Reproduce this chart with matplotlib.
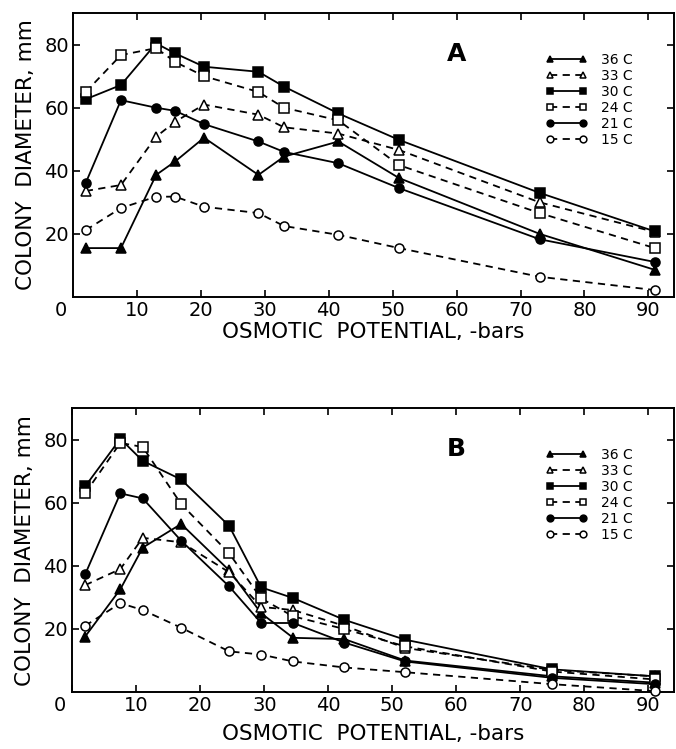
import matplotlib
matplotlib.use("Agg")
import matplotlib.pyplot as plt
from matplotlib import transforms

# ---------------- data ----------------
labels = ["36 C", "33 C", "30 C", "24 C", "21 C", "15 C"]

xA = [2, 7.5, 13, 16, 20.5, 29, 33, 41.5, 51, 73, 91]
yA_36 = [15.5, 15.5, 38.7, 43, 50.5, 38.7, 44.5, 49.3, 37.7, 20, 8.6]
yA_33 = [33.6, 35.5, 50.8, 55.6, 61, 57.8, 53.8, 51.8, 46.6, 30, 20.6]
yA_30 = [62.7, 67.2, 80.4, 77.2, 73, 71.4, 66.7, 58.2, 49.8, 33, 20.8]
yA_24 = [65, 76.7, 78.9, 74.5, 70, 65, 60, 56, 41.8, 26.6, 15.5]
yA_21 = [36.2, 62.4, 60, 59, 54.8, 49.3, 46, 42.4, 34.5, 18.3, 11.1]
yA_15 = [21.2, 28.2, 31.8, 31.8, 28.6, 26.6, 22.5, 19.7, 15.5, 6.4, 2.2]

xB = [2, 7.5, 11, 17, 24.5, 29.5, 34.5, 42.5, 52, 75, 91]
yB_36 = [17.6, 32.6, 45.8, 53.3, 38.6, 25, 17.2, 16.8, 10, 5, 3]
yB_33 = [33.9, 39, 48.9, 47.5, 38, 27, 26, 21, 14, 7, 5]
yB_30 = [65.2, 80.3, 73.3, 67.4, 52.7, 33.2, 29.8, 22.9, 16.6, 7.2, 5]
yB_24 = [63, 79, 77.7, 59.6, 44, 29.7, 24, 20, 14.5, 6.5, 4]
yB_21 = [37.3, 63, 61.4, 48, 33.5, 21.9, 21.9, 15.7, 9.7, 4.5, 2.5]
yB_15 = [21, 28.2, 26, 20.4, 12.9, 11.9, 9.7, 7.8, 6.3, 2.5, 0.3]

xticks = [0, 10, 20, 30, 40, 50, 60, 70, 80, 90]
yticks = [20, 40, 60, 80]

# ---------------- style ----------------
styles = [
    dict(marker="^", ls="-", mfc="black"),
    dict(marker="^", ls=(0, (4, 3)), mfc="white"),
    dict(marker="s", ls="-", mfc="black"),
    dict(marker="s", ls=(0, (4, 3)), mfc="white"),
    dict(marker="o", ls="-", mfc="black"),
    dict(marker="o", ls=(0, (4, 3)), mfc="white"),
]

plt.rcParams["font.family"] = ["DejaVu Sans"]

fig = plt.figure(figsize=(6.76, 7.49), dpi=100)
axA = fig.add_axes([0.108, 0.6035, 0.889, 0.379])
axB = fig.add_axes([0.107, 0.076, 0.890, 0.379])


def draw(ax, x, ys, letter, xlabelpad):
    for y, st, lab in zip(ys, styles, labels):
        ax.plot(x, y, color="black", lw=1.3, ls=st["ls"], marker=st["marker"],
                mfc=st["mfc"], mec="black", mew=1.1, ms=6.5, label=lab,
                clip_on=False, zorder=3)
    ax.set_xlim(0, 94)
    ax.set_ylim(0, 90)
    ax.set_xticks(xticks)
    ax.set_yticks(yticks)
    ax.tick_params(direction="in", length=5, width=1.2, top=True, right=True,
                   labelsize=14, pad=3)
    for s in ax.spines.values():
        s.set_linewidth(1.4)
    # shift the "0" tick label left, as in the original
    lbl0 = ax.get_xticklabels()[0]
    lbl0.set_transform(lbl0.get_transform() +
                       transforms.ScaledTranslation(-0.12, 0, fig.dpi_scale_trans))
    ax.set_ylabel("COLONY  DIAMETER, mm", fontsize=15.5, labelpad=6)
    ax.set_xlabel("OSMOTIC  POTENTIAL, -bars", fontsize=15.5, labelpad=xlabelpad)
    ax.text(60, 77, letter, fontsize=18, fontweight="heavy", ha="center",
            va="center")
    ax.legend(loc="upper left", bbox_to_anchor=(0.775, 0.885),
              frameon=False, fontsize=10, handlelength=3.0, numpoints=2,
              handletextpad=1.0, labelspacing=0.15, borderpad=0,
              markerscale=0.75)


draw(axA, xA, [yA_36, yA_33, yA_30, yA_24, yA_21, yA_15], "A", 1)
draw(axB, xB, [yB_36, yB_33, yB_30, yB_24, yB_21, yB_15], "B", 6)

fig.savefig("out.png", dpi=100)
